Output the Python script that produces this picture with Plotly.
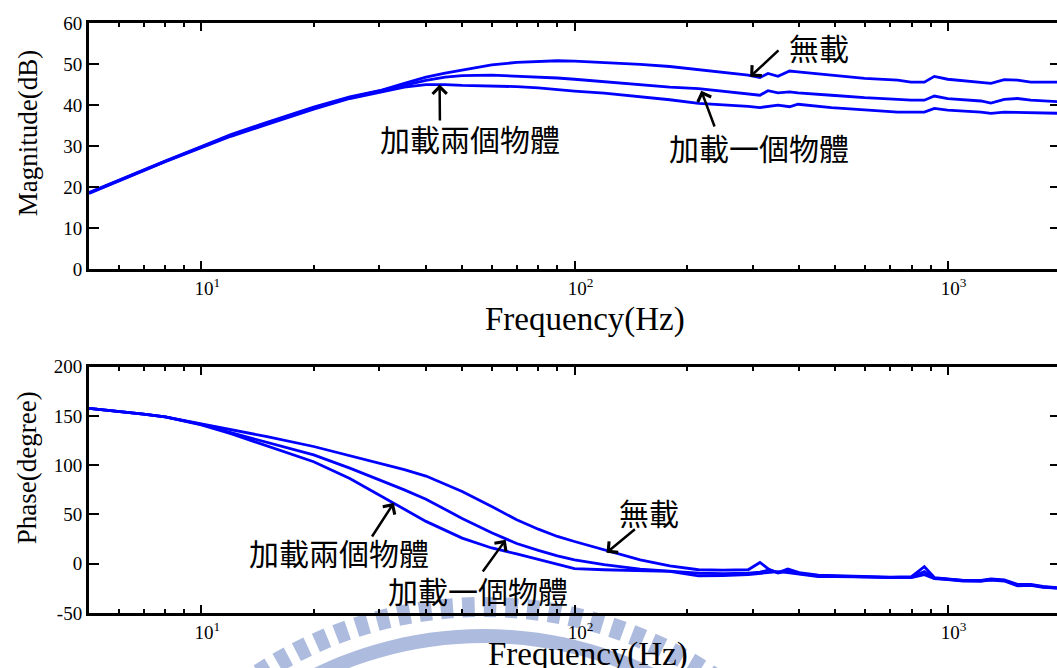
import math
import plotly.graph_objects as go

# ---------------- data ----------------
# Magnitude response (dB)
mag_freq = [5, 6, 7, 8, 10, 12, 15, 20, 25, 30, 35, 40, 45, 50, 60, 70, 80, 90, 100,
            120, 150, 180, 215, 264, 292, 314, 330, 351, 377, 397, 488, 599, 735, 797,
            866, 921, 1000, 1228, 1306, 1418, 1539, 1670, 2000]
mag_none = [18.7, 21.7, 24.2, 26.4, 29.9, 32.8, 35.8, 39.5, 42.0, 43.5, 45.3, 46.8, 47.8,
            48.6, 49.8, 50.4, 50.7, 50.8, 50.7, 50.4, 49.9, 49.4, 48.6, 47.8, 47.3, 46.7,
            47.7, 47.0, 48.3, 48.1, 47.3, 46.5, 46.1, 45.6, 45.6, 47.0, 46.3, 45.6, 45.3,
            46.2, 46.1, 45.6, 45.6]
mag_one = [18.6, 21.6, 24.1, 26.3, 29.8, 32.6, 35.6, 39.3, 41.8, 43.4, 44.9, 46.0, 46.8,
           47.2, 47.3, 47.1, 46.9, 46.6, 46.3, 45.7, 45.0, 44.4, 44.0, 43.2, 42.8, 42.4,
           43.5, 43.0, 43.2, 43.0, 42.4, 41.8, 41.4, 41.2, 41.2, 42.2, 41.6, 41.0, 40.5,
           41.4, 41.6, 41.2, 40.8]
mag_two = [18.5, 21.5, 24.0, 26.2, 29.6, 32.4, 35.3, 39.0, 41.6, 43.2, 44.4, 45.0, 45.0,
           44.8, 44.7, 44.5, 44.2, 43.7, 43.4, 42.9, 42.1, 41.3, 40.4, 40.0, 39.7, 39.4,
           39.6, 40.0, 39.6, 40.2, 39.4, 38.9, 38.3, 38.3, 38.3, 39.2, 38.8, 38.3, 38.0,
           38.3, 38.2, 38.1, 38.0]

# Phase response (degree)
ph_freq = [5, 6, 7, 8, 10, 12, 15, 20, 25, 30, 35, 40, 50, 60, 70, 80, 90, 100, 120, 150,
           180, 215, 250, 292, 314, 334, 351, 373, 400, 450, 500, 600, 700, 800, 866, 921,
           1000, 1100, 1228, 1306, 1418, 1539, 1670, 1800, 2000]
ph_none = [157.8, 154.8, 151.9, 149.0, 142.0, 136.5, 129.0, 119.0, 109.5, 102.0, 95.5,
           89.0, 73.3, 58.1, 44.6, 35.1, 27.7, 22.6, 14.2, 4.0, -2.1, -6.1, -6.5, -6.1,
           1.3, -6.5, -9.0, -5.4, -9.0, -11.5, -12.0, -12.5, -13.5, -13.0, -3.0, -14.0,
           -15.5, -17.0, -17.0, -15.5, -16.5, -21.0, -21.0, -23.0, -24.5]
ph_one = [157.8, 154.8, 151.9, 149.0, 141.5, 133.0, 123.0, 110.5, 97.0, 85.5, 75.0, 65.5,
          46.0, 31.5, 20.5, 13.5, 8.0, 4.0, -1.0, -5.4, -7.8, -9.5, -10.0, -9.5, -8.5,
          -6.1, -9.5, -7.0, -10.0, -12.0, -12.5, -13.0, -14.0, -13.5, -8.0, -14.5, -16.0,
          -17.0, -17.5, -16.0, -17.0, -22.0, -21.5, -23.5, -25.0]
ph_two = [157.8, 154.8, 151.9, 149.0, 141.0, 132.0, 119.5, 103.5, 86.5, 69.5, 55.0, 43.0,
          26.0, 16.0, 10.0, 4.5, -0.5, -5.0, -6.1, -6.8, -7.8, -12.2, -12.0, -11.0, -10.0,
          -9.0, -8.0, -9.0, -10.5, -13.0, -13.0, -13.5, -14.0, -14.0, -11.0, -15.0, -16.0,
          -17.5, -17.5, -16.5, -17.5, -22.5, -22.0, -24.0, -25.0]

# Axis ticks
x_major = [10, 100, 1000]
x_major_text = ["10<sup>1</sup>", "10<sup>2</sup>", "10<sup>3</sup>"]
mag_ticks = [0, 10, 20, 30, 40, 50, 60]
ph_ticks = [-50, 0, 50, 100, 150, 200]

# Callouts: label, arrow tip (Hz, value), label centre and arrow tail in pixels
mag_notes = [
    ("加載兩個物體", 43.5, 45.0, (471, 138), (441, 122)),
    ("加載一個物體", 218.6, 43.5, (761, 147), (717, 128)),
    ("無載", 295.5, 46.9, (821, 47), (782, 49)),
]
ph_notes = [
    ("加載兩個物體", 32.8, 61.8, (340, 552), (372, 538)),
    ("加載一個物體", 65.4, 24.3, (479, 590), (483, 573)),
    ("無載", 121.8, 11.1, (651, 512), (638, 528)),
]

# ---------------- layout geometry ----------------
W, H = 1066, 668
ML, MR, MT, MB = 89, 3, 23, 55
X_RANGE = [math.log10(5), math.log10(2000)]
PLOT_W = W - ML - MR
PLOT_H = H - MT - MB
MAG_DOM = [(H - MB - 269.3) / PLOT_H, 1.0]
PH_DOM = [0.0, (H - MB - 366.7) / PLOT_H]

SERIF = "Liberation Serif, Times New Roman, serif"
CJK = "Noto Sans CJK TC, Noto Sans CJK SC, sans-serif"
BLUE = "#0000ff"


def px(X):
    return (X - ML) / PLOT_W


def py(Y):
    return (H - MB - Y) / PLOT_H


fig = go.Figure()

for ys in (mag_none, mag_one, mag_two):
    fig.add_trace(go.Scatter(x=mag_freq, y=ys, mode="lines", xaxis="x", yaxis="y",
                             line=dict(color=BLUE, width=2.8), showlegend=False,
                             hoverinfo="skip"))
for ys in (ph_none, ph_one, ph_two):
    fig.add_trace(go.Scatter(x=ph_freq, y=ys, mode="lines", xaxis="x2", yaxis="y2",
                             line=dict(color=BLUE, width=2.8), showlegend=False,
                             hoverinfo="skip"))

minor_vals = [m * 10 ** d for d in range(0, 4) for m in range(2, 10)
              if 5 <= m * 10 ** d <= 2000]


def xaxis_cfg(anchor):
    return dict(type="log", range=X_RANGE, domain=[0, 1], anchor=anchor,
                showline=True, linecolor="black", linewidth=3, mirror="ticks",
                ticks="inside", ticklen=8, tickwidth=2, tickcolor="black",
                tickvals=x_major, ticktext=x_major_text, ticklabelshift=6,
                tickfont=dict(family=SERIF, size=19, color="black"),
                showgrid=False, zeroline=False,
                minor=dict(tickvals=minor_vals, ticks="inside", ticklen=4,
                           tickwidth=2, tickcolor="black", showgrid=False))


def yaxis_cfg(anchor, dom, rng, ticks):
    return dict(range=rng, domain=dom, anchor=anchor,
                showline=True, linecolor="black", linewidth=3, mirror="ticks",
                ticks="inside", ticklen=10, tickwidth=2, tickcolor="black",
                tickvals=ticks, ticktext=[str(t) for t in ticks],
                tickfont=dict(family=SERIF, size=19, color="black"),
                showgrid=False, zeroline=False)


fig.update_layout(
    width=W, height=H,
    margin=dict(l=ML, r=MR, t=MT, b=MB, pad=0),
    paper_bgcolor="white", plot_bgcolor="rgba(0,0,0,0)",
    xaxis=xaxis_cfg("y"),
    yaxis=yaxis_cfg("x", MAG_DOM, [0, 60], mag_ticks),
    xaxis2=xaxis_cfg("y2"),
    yaxis2=yaxis_cfg("x2", PH_DOM, [-50, 200], ph_ticks),
)

# Axis titles
titles = [
    ("Frequency(Hz)", 587, 319, 0, 33),
    ("Frequency(Hz)", 590, 654, 0, 33),
    ("Magnitude(dB)", 28, 133, -90, 27),
    ("Phase(degree)", 27, 468, -90, 27),
]
for text, X, Y, ang, size in titles:
    fig.add_annotation(text=text, x=px(X), y=py(Y), xref="paper", yref="paper",
                       showarrow=False, textangle=ang, xanchor="center",
                       yanchor="middle", font=dict(family=SERIF, size=size,
                                                   color="black"))


def tip_pixels(f_tip, v_tip, dom, rng):
    X = ML + (math.log10(f_tip) - X_RANGE[0]) / (X_RANGE[1] - X_RANGE[0]) * PLOT_W
    frac = (v_tip - rng[0]) / (rng[1] - rng[0])
    Y = H - MB - (dom[0] + frac * (dom[1] - dom[0])) * PLOT_H
    return X, Y


# Callout labels with arrows pointing at the curves
for notes, xr, yr, dom, rng in ((mag_notes, "x", "y", MAG_DOM, [0, 60]),
                                (ph_notes, "x2", "y2", PH_DOM, [-50, 200])):
    for label, f_tip, v_tip, (LX, LY), (TX, TY) in notes:
        fig.add_annotation(text=label, x=px(LX), y=py(LY), xref="paper",
                           yref="paper", showarrow=False, xanchor="center",
                           yanchor="middle",
                           font=dict(family=CJK, size=30, color="black"))
        tX, tY = tip_pixels(f_tip, v_tip, dom, rng)
        fig.add_annotation(text="", x=math.log10(f_tip), y=v_tip, xref=xr, yref=yr,
                           showarrow=True, arrowhead=4, arrowsize=1.1,
                           arrowwidth=2.5, arrowcolor="black", standoff=0,
                           ax=TX - tX, ay=TY - tY)

# Faint seal in the lower margin: toothed ring plus a plain ring
SEAL = "#adbbde"
cx, cy = 485, 1021
teeth = []
n_teeth = 120
for k in range(n_teeth):
    a0 = 2 * math.pi * k / n_teeth
    a1 = a0 + 2 * math.pi / n_teeth * 0.58
    pts = [(cx + r * math.cos(a), cy + r * math.sin(a))
           for r, a in ((404, a0), (424, a0), (424, a1), (404, a1))]
    if min(p[1] for p in pts) > 668:
        continue
    teeth.append("M" + " L".join(f"{px(X):.5f},{py(Y):.5f}" for X, Y in pts) + " Z")
fig.add_shape(type="path", path=" ".join(teeth), xref="paper", yref="paper",
              fillcolor=SEAL, line=dict(width=0), layer="below")

steps = 90
outer = [(cx + 392 * math.cos(math.pi + math.pi * i / steps),
          cy + 392 * math.sin(math.pi + math.pi * i / steps)) for i in range(steps + 1)]
inner = [(cx + 378 * math.cos(math.pi + math.pi * i / steps),
          cy + 378 * math.sin(math.pi + math.pi * i / steps)) for i in range(steps, -1, -1)]
fig.add_shape(type="path",
              path="M" + " L".join(f"{px(X):.5f},{py(Y):.5f}" for X, Y in outer + inner) + " Z",
              xref="paper", yref="paper", fillcolor=SEAL, line=dict(width=0),
              layer="below")

fig.write_html(
    "out.html",
    config=dict(displayModeBar=False),
    post_script="document.body.style.overflow='hidden';"
                "document.documentElement.style.overflow='hidden';",
)
